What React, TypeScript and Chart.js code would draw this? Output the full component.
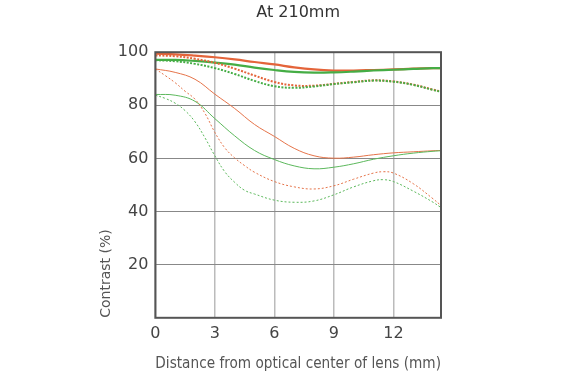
import { useEffect, useRef } from "react";
import { Chart, registerables } from "chart.js";
Chart.register(...registerables);

const TITLE = "At 210mm";
const X_TITLE = "Distance from optical center of lens (mm)";
const Y_TITLE = "Contrast (%)";
const xTicks = [0, 3, 6, 9, 12];
const yTicks = [20, 40, 60, 80, 100];

const xCoarse = [0, 1, 2, 3, 4, 5, 6, 7, 8, 9, 10, 11, 12, 13, 14, 14.4];
const orangeSolidThick = [99.5, 99.2, 98.7, 98.1, 97.3, 96.3, 95.4, 94.3, 93.5, 93.1, 93.1, 93.3, 93.5, 93.8, 94, 94];
const greenSolidThick = [97.1, 97.1, 96.7, 96.1, 95.3, 94.2, 93.3, 92.6, 92.3, 92.4, 92.7, 93.1, 93.4, 93.7, 94, 94];
const orangeDotThick = [98.8, 98.5, 97.5, 96, 93.8, 91.2, 88.8, 87.5, 87.4, 88.1, 88.8, 89.4, 89, 87.8, 85.9, 85.2];
const greenDotThick = [97, 96.6, 95.6, 94, 91.8, 89.2, 87.2, 86.6, 87.1, 88, 88.7, 89.3, 88.9, 87.7, 85.8, 85.1];
const orangeSolidThin = [93.7, 92.4, 89.8, 84.2, 78.8, 72.8, 68.3, 63.8, 61, 60.1, 60.5, 61.4, 62.1, 62.5, 62.9, 63];
const greenSolidThin = [84.1, 83.8, 81.5, 75, 68.5, 63, 59.6, 57.2, 56.1, 56.7, 58, 59.7, 61, 62, 62.7, 62.9];

const xFine = [0, 0.5, 1, 1.5, 2, 2.5, 3, 3.5, 4, 4.5, 5, 6, 7, 8, 9, 10, 11, 11.5, 12, 13, 14, 14.4];
const orangeDotThin = [93.7, 91.2, 88.5, 85.3, 82.3, 77, 69.8, 64, 60.2, 57.3, 54.8, 51.3, 49.3, 48.5, 49.7, 52.2, 54.5, 55, 54.5, 50.5, 44.8, 42.3];
const greenDotThin = [83.8, 82.6, 80.8, 78, 73.8, 67.8, 61, 55, 51, 48, 46.6, 44.3, 43.5, 44, 46.3, 49.3, 51.6, 52, 51.3, 47.7, 43.5, 41.5];

const ORANGE = "#e4643a";
const GREEN = "#45ad45";
const ORANGE_THIN = "#e5744a";
const GREEN_THIN = "#5cb85c";
const FONT = "'DejaVu Sans', sans-serif";

export default function App() {
  const ref = useRef<HTMLCanvasElement>(null);
  useEffect(() => {
    document.body.style.margin = "0";
    const pts = (xs: number[], ys: number[]) => xs.map((x, i) => ({ x, y: ys[i] }));
    const frame = {
      id: "frame",
      afterDraw(chart: any) {
        const { ctx, chartArea: a } = chart;
        ctx.save();
        ctx.strokeStyle = "#555";
        ctx.lineWidth = 2;
        ctx.strokeRect(a.left, a.top, a.right - a.left, a.bottom - a.top);
        ctx.restore();
      },
    };
    const ds = (data: number[], xs: number[], color: string, width: number, dash: number[]) => ({
      data: pts(xs, data),
      borderColor: color,
      borderWidth: width,
      borderDash: dash,
      pointRadius: 0,
      fill: false,
      tension: 0.4,
    });
    const chart = new Chart(ref.current!, {
      type: "line",
      data: {
        datasets: [
          ds(greenDotThin, xFine, GREEN_THIN, 1, [2, 2]),
          ds(orangeDotThin, xFine, ORANGE_THIN, 1, [2, 2]),
          ds(greenSolidThin, xCoarse, GREEN_THIN, 1, []),
          ds(orangeSolidThin, xCoarse, ORANGE_THIN, 1, []),
          ds(greenDotThick, xCoarse, GREEN, 2, [2, 1.5]),
          ds(orangeDotThick, xCoarse, ORANGE, 2, [2, 1.5]),
          ds(greenSolidThick, xCoarse, GREEN, 2.2, []),
          ds(orangeSolidThick, xCoarse, ORANGE, 2.2, []),
        ],
      },
      options: {
        responsive: false,
        animation: false,
        layout: { padding: { left: 98, right: 136, top: 0, bottom: 6 } },
        plugins: {
          legend: { display: false },
          tooltip: { enabled: false },
          title: {
            display: true,
            text: TITLE,
            fullSize: false,
            color: "#333",
            font: { family: FONT, size: 16, weight: "normal" },
            padding: { top: 3, bottom: 30 },
          },
        },
        scales: {
          x: {
            type: "linear",
            min: 0,
            max: 14.4,
            afterBuildTicks: (s: any) => { s.ticks = xTicks.map((v) => ({ value: v })); },
            grid: { color: "#bbb", lineWidth: 1.5, drawTicks: false },
            border: { display: false },
            ticks: { color: "#444", font: { family: FONT, size: 16 }, padding: 6 },
            title: { display: true, text: X_TITLE, color: "#555", font: { family: FONT, size: 15 }, padding: { top: 6, bottom: 4 } },
          },
          y: {
            type: "linear",
            min: 0,
            max: 100,
            afterBuildTicks: (s: any) => { s.ticks = yTicks.map((v) => ({ value: v })); },
            grid: { color: "#888", lineWidth: 1, drawTicks: false },
            border: { display: false },
            ticks: { color: "#444", font: { family: FONT, size: 16 }, padding: 7 },
            title: { display: true, text: Y_TITLE, align: "start", color: "#555", font: { family: FONT, size: 14 }, padding: { top: 0, bottom: -4 } },
          },
        },
      },
      plugins: [frame],
    });
    return () => chart.destroy();
  }, []);
  return <canvas ref={ref} width={577} height={383} />;
}
